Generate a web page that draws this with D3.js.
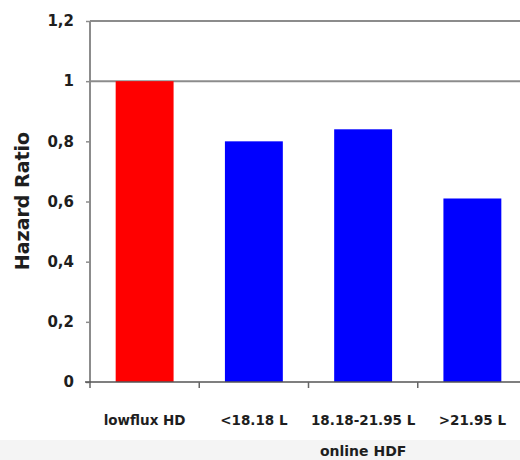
<!DOCTYPE html>
<html>
<head>
<meta charset="utf-8">
<script src="https://cdn.jsdelivr.net/npm/d3@7"></script>
<style>
  html, body { margin: 0; padding: 0; background: #fff; }
  svg { display: block; }
  text { font-family: "DejaVu Sans", sans-serif; font-weight: bold; fill: #1e1e1e; }
</style>
</head>
<body>
<svg id="chart" width="520" height="460"></svg>
<script>
const categories = ["lowflux HD", "<18.18 L", "18.18-21.95 L", ">21.95 L"];
const hazardRatio = [1.0, 0.80, 0.84, 0.61];
const barColors = ["#ff0000", "#0000ff", "#0000ff", "#0000ff"];
const yTicks = [0, 0.2, 0.4, 0.6, 0.8, 1.0, 1.2];
const yLabel = "Hazard Ratio";
const groupLabel = "online HDF";
const groupMembers = ["<18.18 L", "18.18-21.95 L", ">21.95 L"];

(function () {
const svg = d3.select("#chart");
const W = 520, H = 460;
const pLeft = 90, pRight = 527, pTop = 21, pBottom = 382;

// faint bottom band
svg.append("rect").attr("x", 0).attr("y", 440).attr("width", W).attr("height", 20).attr("fill", "#f4f4f4");

const x = d3.scaleBand().domain(categories).range([pLeft, pRight]).paddingInner(0.47).paddingOuter(0.235);
const y = d3.scaleLinear().domain([0, 1.2]).range([pBottom, pTop]);

// horizontal lines at 1.2 (plot top) and 1.0
[1.2, 1.0].forEach(v => {
  svg.append("line")
    .attr("x1", pLeft).attr("x2", W)
    .attr("y1", y(v)).attr("y2", y(v))
    .attr("stroke", "#8c8c8c").attr("stroke-width", 2);
});

// bars
svg.selectAll("rect.bar").data(categories).enter().append("rect")
  .attr("class", "bar")
  .attr("x", d => x(d))
  .attr("width", x.bandwidth())
  .attr("y", (d, i) => y(hazardRatio[i]))
  .attr("height", (d, i) => y(0) - y(hazardRatio[i]))
  .attr("fill", (d, i) => barColors[i]);

// y axis
const yAxis = d3.axisLeft(y).tickValues(yTicks).tickSize(4).tickPadding(12)
  .tickFormat(d => d3.format("~g")(d).replace(".", ","));
const ya = svg.append("g").attr("transform", `translate(${pLeft},0)`).call(yAxis);
ya.select(".domain").attr("stroke", "#8c8c8c").attr("stroke-width", 2)
  .attr("d", `M0,${pTop}V${pBottom + 6}`);
ya.selectAll(".tick line").attr("stroke", "#8c8c8c").attr("stroke-width", 1.5);
ya.selectAll(".tick text").style("font-size", "15px").style("font-family", "DejaVu Sans, sans-serif")
  .style("font-weight", "bold").attr("fill", "#1e1e1e");

// x axis
const xAxis = d3.axisBottom(x).tickSize(0).tickPadding(36);
const xa = svg.append("g").attr("transform", `translate(0,${pBottom})`).call(xAxis);
xa.select(".domain").attr("stroke", "#555").attr("stroke-width", 1.5)
  .attr("d", `M${pLeft - 5},0H${W}`);
xa.selectAll(".tick text").style("font-size", "13.5px").style("font-family", "DejaVu Sans, sans-serif")
  .style("font-weight", "bold").attr("fill", "#1e1e1e").attr("dy", null).attr("y", 43);

// tick marks at category boundaries
const gap = x.step() * x.paddingInner() / 2;
categories.slice(1).forEach(c => {
  const bx = x(c) - gap;
  svg.append("line").attr("x1", bx).attr("x2", bx)
    .attr("y1", pBottom).attr("y2", pBottom + 6)
    .attr("stroke", "#666").attr("stroke-width", 1.5);
});

// group label
const gx = (x(groupMembers[0]) + x(groupMembers[groupMembers.length - 1]) + x.bandwidth()) / 2;
svg.append("text").attr("x", gx).attr("y", 456).attr("text-anchor", "middle")
  .style("font-size", "14px").text(groupLabel);

// y label
svg.append("text")
  .attr("transform", `translate(29,201) rotate(-90)`)
  .attr("text-anchor", "middle")
  .style("font-size", "19px").text(yLabel);
})();
</script>
</body>
</html>
